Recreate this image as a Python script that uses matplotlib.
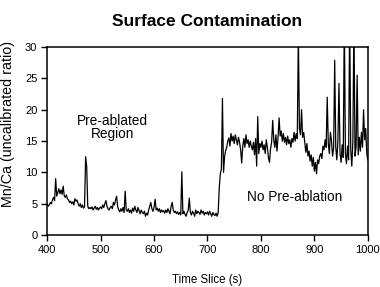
import numpy as np
import matplotlib
matplotlib.use("Agg")
import matplotlib.pyplot as plt

plt.rcParams['font.family'] = ['Liberation Sans', 'DejaVu Sans']

# Mn/Ca signal, every 2 s from 400 to 1000 s
t_start = 400
t_step = 2
mn_ca = [
    5.0, 4.6, 4.8, 5.2, 5.0, 5.6, 6.0, 5.5, 9.0, 6.2,
    6.8, 7.4, 6.6, 7.2, 6.5, 7.8, 6.3, 6.0, 6.4, 5.8,
    5.6, 5.2, 5.4, 5.0, 5.3, 4.8, 5.8, 5.4, 5.6, 5.0,
    4.6, 5.0, 4.4, 4.8, 4.3, 4.5, 12.5, 11.0, 4.6, 4.2,
    4.4, 4.2, 4.5, 4.0, 4.3, 4.6, 4.1, 4.4, 4.0, 4.3,
    4.5, 4.2, 4.8, 4.4, 5.0, 5.5, 4.6, 4.2, 4.0, 4.4,
    4.6, 4.2, 5.2, 4.8, 5.6, 6.2, 4.5, 4.0, 3.7, 4.2,
    3.8, 4.4, 3.6, 7.0, 4.0, 3.8, 4.2, 3.6, 4.0, 3.5,
    4.3, 3.8, 4.6, 4.0, 3.6, 4.4, 3.9, 3.4, 4.0, 3.6,
    3.4, 3.8, 3.0, 3.5, 3.2, 4.0, 4.6, 5.2, 4.2, 3.8,
    4.4, 5.7, 4.0, 4.3, 3.8, 4.2, 3.6, 4.0, 3.7, 3.9,
    3.5, 4.0, 3.6, 4.2, 3.8, 3.4, 4.6, 5.2, 4.0, 3.6,
    3.8, 3.4, 3.7, 3.3, 3.6, 3.2, 10.1, 3.4, 3.8, 3.3,
    3.0, 3.6, 4.0, 5.9, 3.6, 3.2, 3.8, 3.5, 3.0, 4.0,
    3.4, 3.8, 3.6, 3.3, 4.0, 3.5, 3.8, 3.2, 3.6, 3.4,
    3.7, 3.2, 3.8, 3.4, 3.0, 3.6, 3.3, 3.1, 3.5, 3.0,
    3.6, 7.5, 9.8, 10.5, 21.8, 10.0, 12.5, 13.5, 14.0, 15.0,
    15.5, 14.2, 16.2, 15.0, 15.8, 14.6, 16.0, 15.2, 14.4, 15.6,
    14.8, 13.6, 11.5, 14.2, 15.4, 14.0, 16.0, 14.6, 15.2, 14.0,
    15.0, 14.2, 13.6, 14.8, 12.8, 15.4, 11.0, 18.9, 13.0, 14.6,
    14.0, 15.0, 13.6, 14.4, 13.0, 15.2, 14.0, 12.4, 11.6, 13.8,
    14.8, 18.3, 15.2, 14.0, 16.0, 13.4, 15.6, 18.7, 15.8, 16.6,
    15.0, 16.2, 14.8, 15.6, 14.4, 15.8, 14.6, 15.2, 14.0, 15.4,
    14.8, 16.4, 15.0, 16.2, 15.4, 32.0, 17.0, 16.0, 20.0, 15.6,
    16.4, 14.8, 13.2, 14.6, 12.6, 13.4, 11.8, 12.8, 11.0, 12.4,
    10.2, 11.6, 9.8, 12.0, 11.4, 12.6, 13.0, 12.2, 14.2, 13.6,
    15.2, 14.0, 22.0, 14.6, 13.0, 16.4, 15.0, 12.6, 14.0, 27.9,
    14.0, 12.0, 15.0, 24.2, 13.0, 11.6, 14.4, 12.4, 35.0, 13.0,
    11.4, 14.2, 12.0, 35.0, 13.6, 11.0, 15.0, 35.0, 12.6, 14.0,
    25.5, 12.8, 15.6, 13.4, 16.4, 14.0, 20.0, 15.2, 17.0, 13.0,
    12.0,
]
time_s = t_start + t_step * np.arange(len(mn_ca))

x_ticks = [400, 500, 600, 700, 800, 900, 1000]
y_ticks = [0, 5, 10, 15, 20, 25, 30]

fig = plt.figure(figsize=(3.8, 2.87), dpi=100)
ax = fig.add_axes([0.124, 0.181, 0.844, 0.655])

ax.plot(time_s, mn_ca, color='black', linewidth=0.9)

ax.set_xlim(400, 1000)
ax.set_ylim(0, 30)
ax.set_xticks(x_ticks)
ax.set_yticks(y_ticks)
ax.tick_params(direction='out', length=4.5, width=1, labelsize=8, pad=2.5)
for s in ax.spines.values():
    s.set_linewidth(1.1)

ax.text(523, 17.2, 'Pre-ablated\nRegion', ha='center', va='center',
        fontsize=9.8, linespacing=0.95)
ax.text(863, 6.1, 'No Pre-ablation', ha='center', va='center', fontsize=9.8)

ax.set_title('Surface Contamination', fontsize=12.5, fontweight='bold', pad=15)
ax.set_xlabel('Time Slice (s)', fontsize=8.3, labelpad=14)
ax.set_ylabel('Mn/Ca (uncalibrated ratio)', fontsize=10.3)
# label anchor is its right-hand edge, ~14 px from the figure edge
ax.yaxis.set_label_coords(-0.101, 0.593)

fig.savefig('out.png', dpi=100)
